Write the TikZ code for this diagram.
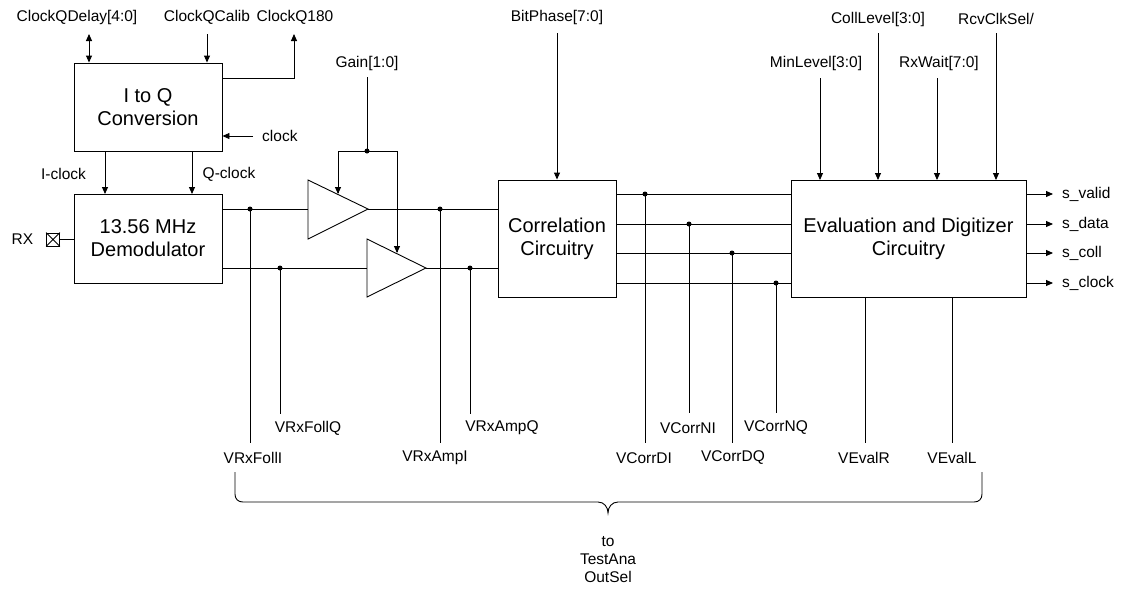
\documentclass[tikz,border=0pt]{standalone}
\usepackage{fontspec}
\setmainfont{Liberation Sans}
\usetikzlibrary{arrows.meta,calc}
\newcommand{\lblfont}{\fontsize{15.5}{18}\selectfont}
\newcommand{\boxfont}{\fontsize{20}{23}\selectfont}
\begin{document}
\begin{tikzpicture}[x=1pt,y=-1pt,
  blk/.style={draw, line width=0.9pt, align=center, font=\boxfont, inner sep=0pt},
  lbl/.style={font=\lblfont, inner sep=0pt},
  wire/.style={line width=0.9pt},
  arr/.style={wire,-{Triangle[length=7pt,width=6pt]}},
  darr/.style={wire,{Triangle[length=7pt,width=6pt]}-{Triangle[length=7pt,width=6pt]}},
  jdot/.style={circle, fill, inner sep=0pt, minimum size=5pt}]
\useasboundingbox (0,0) rectangle (1125,592);
\fill[white] (0,0) rectangle (1125,592);

% blocks
\node[blk, minimum width=148pt, minimum height=88pt] (iq) at (148,107) {I to Q\\Conversion};
\node[blk, minimum width=148pt, minimum height=89pt] (dem) at (148,238.5) {13.56 MHz\\Demodulator};
\node[blk, minimum width=118pt, minimum height=117pt] (corr) at (557,238.5) {Correlation\\Circuitry};
\node[blk, minimum width=235pt, minimum height=117pt] (eval) at (908.5,238.5) {Evaluation and Digitizer\\Circuitry};

% amplifiers
\coordinate (a1in) at (308,209); \coordinate (a1out) at (368,209);
\coordinate (a2in) at (367,268); \coordinate (a2out) at (426,268);
\draw[wire] (308,180) -- (a1out) -- (308,239) -- cycle;
\draw[wire] (367,239) -- (a2out) -- (367,297) -- cycle;

% top labels of I to Q
\node[lbl] (lcqd) at (77,17) {ClockQDelay[4:0]};
\node[lbl] (lcqc) at (207,17) {ClockQCalib};
\node[lbl] (lcq180) at (295,17) {ClockQ180};
\coordinate (cqdT) at (89,34);
\coordinate (cqcT) at (207,34);
\coordinate (cq180T) at (294,34);
\draw[darr] (cqdT) -- (cqdT |- iq.north);
\draw[arr] (cqcT) -- (cqcT |- iq.north);
\draw[arr] (iq.east |- 0,78) -- (294,78) -- (cq180T);
\node[lbl, anchor=west] (lclk) at (262,136) {clock};
\draw[arr] (253,136) -- (iq.east |- 0,136);

% I/Q clocks
\draw[arr] (105,151) -- (105,194);
\draw[arr] (192,151) -- (192,194);
\node[lbl] (licl) at (63.5,174) {I-clock};
\node[lbl] (lqcl) at (229,174) {Q-clock};

% RX pin
\node[lbl] (lrx) at (22.5,239) {RX};
\node[draw, line width=0.9pt, minimum size=13pt, inner sep=0pt] (rxpin) at (53,239.5) {};
\draw[line width=0.8pt] (rxpin.north west) -- (rxpin.south east) (rxpin.south west) -- (rxpin.north east);
\draw[wire] (rxpin.east) -- (dem.west |- rxpin.east);

% demod to amps
\draw[wire] (dem.east |- a1in) -- (a1in);
\draw[wire] (dem.east |- a2in) -- (a2in);
\draw[wire] (a1out) -- (corr.west |- a1out);
\draw[wire] (a2out) -- (corr.west |- a2out);

% gain
\node[lbl] (lgain) at (367,63) {Gain[1:0]};
\node[jdot] (gdot) at (367,151) {};
\draw[wire] (367,77) -- (gdot.center);
\draw[wire] (338,193) -- (338,151) -- (397,151) -- (397,252);
\draw[arr] (338,175) -- (338,194);
\draw[arr] (397,235) -- (397,253);

% taps
\node[jdot] (d1) at (250,209) {};
\node[jdot] (d2) at (280,268) {};
\node[jdot] (d3) at (440,209) {};
\node[jdot] (d4) at (470,268) {};
\draw[wire] (d1.center) -- (250,443);
\draw[wire] (d2.center) -- (280,414);
\draw[wire] (d3.center) -- (440,443);
\draw[wire] (d4.center) -- (470,414);

% BitPhase
\node[lbl] (lbp) at (557,17) {BitPhase[7:0]};
\draw[arr] (557,33) -- (corr.north);

% corr to eval
\foreach \yy/\xx/\nn/\bb in {194/645/c1/443, 224/689/c2/413, 253/732/c3/443, 283/776/c4/413}{
  \draw[wire] (corr.east |- 0,\yy) -- (eval.west |- 0,\yy);
  \node[jdot] (\nn) at (\xx,\yy) {};
  \draw[wire] (\nn.center) -- (\xx,\bb);
}

% eval inputs
\node[lbl] (lcoll) at (878,19) {CollLevel[3:0]};
\node[lbl] (lrcv) at (996,19) {RcvClkSel/};
\node[lbl] (lmin) at (816,63) {MinLevel[3:0]};
\node[lbl] (lrxw) at (939,63) {RxWait[7:0]};
\draw[arr] (820,78) -- (820,180);
\draw[arr] (878,33) -- (878,180);
\draw[arr] (937,78) -- (937,180);
\draw[arr] (996,33) -- (996,180);

% eval outputs
\foreach \yy/\tt/\nn in {194/s\_valid/o1, 224/s\_data/o2, 253/s\_coll/o3, 283/s\_clock/o4}{
  \node[lbl, anchor=west] (\nn) at (1062,\yy) {\tt};
  \draw[arr] (eval.east |- 0,\yy) -- (1053,\yy);
}

% eval bottom
\draw[wire] (865,297) -- (865,443);
\draw[wire] (952,297) -- (952,443);

% bottom labels
\node[lbl] (lvfi) at (253,458) {VRxFollI};
\node[lbl] (lvfq) at (308,428) {VRxFollQ};
\node[lbl] (lvai) at (435,458) {VRxAmpI};
\node[lbl] (lvaq) at (502,428) {VRxAmpQ};
\node[lbl] (lcdi) at (644,458) {VCorrDI};
\node[lbl] (lcni) at (688,428) {VCorrNI};
\node[lbl] (lcdq) at (733,458) {VCorrDQ};
\node[lbl] (lcnq) at (776,428) {VCorrNQ};
\node[lbl] (lver) at (864,458) {VEvalR};
\node[lbl] (lvel) at (952,458) {VEvalL};

% brace
\draw[wire] (235,472) -- (235,494) .. controls (235,499) and (238,502) .. (243,502) -- (598,502)
  .. controls (604,502) and (608,507) .. (608,513)
  .. controls (608,507) and (612,502) .. (618,502) -- (974,502)
  .. controls (979,502) and (982,499) .. (982,494) -- (982,472);
\node[lbl, align=center, font=\fontsize{15.5}{18}\selectfont] (lto) at (608,560) {to\\TestAna\\OutSel};
\end{tikzpicture}
\end{document}
